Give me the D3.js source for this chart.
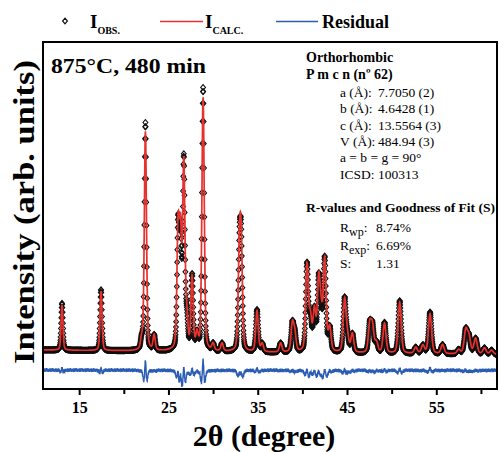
<!DOCTYPE html>
<html>
<head>
<meta charset="UTF-8">
<title>XRD Rietveld 875C 480 min</title>
<script src="https://d3js.org/d3.v7.min.js"></script>
<style>
  body { margin: 0; background: #ffffff; }
  svg { font-family: 'Liberation Serif', 'Times New Roman', serif; }
</style>
</head>
<body>
<svg id="chart" width="499" height="452"></svg>
<script>
// reflection positions (2theta) and heights
var peakPos  = [13.08, 17.45, 22.0, 22.42, 23.4, 26.08, 26.35, 26.72, 27.05, 27.65, 28.2, 28.88, 30.0, 31.0,
                32.95, 33.15, 34.92, 35.5, 37.57, 38.88, 39.15, 40.52, 40.9, 41.35, 41.83, 42.1, 42.5, 43.06,
                44.73, 45.05, 45.6, 47.55, 47.85, 48.3, 49.2, 50.9, 52.7, 53.5, 54.3, 55.7, 57.5, 58.3, 58.65,
                59.4, 60.4, 61.2];
var obsHeight  = [470, 610, 100, 2280, 150, 1200, 1080, 1880, 290, 740, 150, 2630, 70, 80,
                  920, 970, 420, 80, 90, 280, 175, 870, 310, 400, 690, 310, 920, 235,
                  535, 145, 185, 280, 260, 100, 305, 525, 60, 80, 415, 90, 40, 235, 165,
                  155, 60, 40];
var calcHeight = [450, 590, 100, 2190, 150, 1175, 1065, 1830, 290, 720, 150, 2530, 70, 80,
                  895, 955, 405, 80, 90, 272, 175, 855, 310, 392, 675, 310, 905, 235,
                  522, 145, 185, 272, 252, 100, 297, 512, 60, 80, 398, 90, 40, 227, 165,
                  155, 60, 40];
var background = [390, 345];          // at 11 and 62 degrees
var residualOffset = 190;
var residualJitter = [9, -13, 6, 17, -8, -20, 12, 3, -10, 16, -5, -18, 8, 13, -9, 5, -15, 10, 19, -6, -12, 2, 15, -16, 6, -3, 12, -19, 9, -7, 13, -2, -10];
var xTicks = [15, 25, 35, 45, 55];
var xMinor = [20, 30, 40, 50, 60];
var cellLines = [["a (\u00c5):", "7.7050 (2)"], ["b (\u00c5):", "4.6428 (1)"], ["c (\u00c5):", "13.5564 (3)"],
                 ["V (\u00c5):", "484.94 (3)"]];
var rValues = [["R", "wp", ":", "8.74%"], ["R", "exp", ":", "6.69%"], ["S:", "", "", "1.31"]];

var svg = d3.select("#chart");
var mLeft = 43, mRight = 497, mTop = 42, mBottom = 389;

var x = d3.scaleLinear().domain([10.95, 61.8]).range([mLeft, mRight]);
var y = d3.scaleLinear().domain([0, 3470]).range([mBottom, mTop]);
var bg = d3.scaleLinear().domain([11, 62]).range(background);

function profile(t, c, w) {
  var d = (t - c) / w;
  return 0.35 / (1 + 4 * d * d) + 0.65 * Math.exp(-2.7726 * d * d);
}
function peakWidth(c) { return 0.24 + 0.004 * (c - 11); }

var pts = d3.range(11, 62.001, 0.02).map(function(t, i) {
  var o = bg(t), c = bg(t);
  peakPos.forEach(function(p, k) {
    if (Math.abs(t - p) > 4) return;
    o += obsHeight[k] * profile(t, p, peakWidth(p) * 0.91);
    c += calcHeight[k] * profile(t, p, peakWidth(p));
  });
  return {t: t, obs: o, calc: c, res: residualOffset + (o - c) + residualJitter[i % residualJitter.length]};
});

svg.append("clipPath").attr("id", "plotclip")
  .append("rect").attr("x", mLeft).attr("y", mTop).attr("width", mRight - mLeft).attr("height", mBottom - mTop);

var plot = svg.append("g").attr("clip-path", "url(#plotclip)");

var diamond = "M0,-2.8L2.4,0L0,2.8L-2.4,0Z";
plot.selectAll(".obs").data(pts).enter().append("path")
  .attr("class", "obs")
  .attr("d", diamond)
  .attr("transform", function(d) { return "translate(" + x(d.t) + "," + y(d.obs) + ")"; })
  .attr("fill", "none").attr("stroke", "#111").attr("stroke-width", 1.1);

plot.append("path").datum(pts)
  .attr("fill", "none").attr("stroke", "#e8302c").attr("stroke-width", 1.7)
  .attr("d", d3.line().x(function(d) { return x(d.t); }).y(function(d) { return y(d.calc); }));

plot.append("path").datum(pts)
  .attr("fill", "none").attr("stroke", "#2a5cb4").attr("stroke-width", 1.4)
  .attr("d", d3.line().x(function(d) { return x(d.t); }).y(function(d) { return y(d.res); }));

// frame
svg.append("rect").attr("x", mLeft).attr("y", mTop).attr("width", mRight - mLeft).attr("height", mBottom - mTop)
  .attr("fill", "none").attr("stroke", "#000").attr("stroke-width", 2);

// x axis
var xAxis = svg.append("g").attr("transform", "translate(0," + mBottom + ")")
  .call(d3.axisBottom(x).tickValues(xTicks).tickSize(6).tickPadding(7).tickFormat(d3.format("d")));
xAxis.select(".domain").remove();
xAxis.selectAll("line").attr("stroke", "#000").attr("stroke-width", 2);
xAxis.selectAll("text").attr("font-family", "Liberation Serif").attr("font-weight", "bold").attr("font-size", 16).attr("fill", "#000");
svg.append("g").attr("transform", "translate(0," + mBottom + ")")
  .call(d3.axisBottom(x).tickValues(xMinor).tickSize(5).tickFormat(""))
  .call(function(g) { g.select(".domain").remove(); g.selectAll("line").attr("stroke", "#000").attr("stroke-width", 2); });

// axis titles
svg.append("text").attr("x", 264).attr("y", 446).attr("text-anchor", "middle")
  .attr("font-size", 30).attr("font-weight", "bold").text("2\u03b8 (degree)");
svg.append("text").attr("transform", "translate(34,212) rotate(-90)").attr("text-anchor", "middle")
  .attr("font-size", 30).attr("font-weight", "bold")
  .attr("textLength", 304).attr("lengthAdjust", "spacingAndGlyphs")
  .text("Intensity (arb. units)");

// condition label
svg.append("text").attr("x", 51).attr("y", 73).attr("font-size", 22).attr("font-weight", "bold")
  .attr("textLength", 155).attr("lengthAdjust", "spacingAndGlyphs")
  .text("875\u00b0C, 480 min");

// legend
var leg = svg.append("g").attr("font-weight", "bold");
leg.append("path").attr("d", diamond).attr("transform", "translate(65,21)")
  .attr("fill", "#fff").attr("stroke", "#111").attr("stroke-width", 1.2);
var t1 = leg.append("text").attr("x", 90).attr("y", 28).attr("font-size", 19);
t1.append("tspan").text("I");
t1.append("tspan").attr("font-size", 10).attr("dy", 6).text("OBS.");
leg.append("line").attr("x1", 160).attr("x2", 203).attr("y1", 21.5).attr("y2", 21.5)
  .attr("stroke", "#e8302c").attr("stroke-width", 1.6);
var t2 = leg.append("text").attr("x", 205).attr("y", 28).attr("font-size", 19);
t2.append("tspan").text("I");
t2.append("tspan").attr("font-size", 10).attr("dy", 6).text("CALC.");
leg.append("line").attr("x1", 276).attr("x2", 318).attr("y1", 21.5).attr("y2", 21.5)
  .attr("stroke", "#2a5cb4").attr("stroke-width", 1.6);
leg.append("text").attr("x", 322).attr("y", 28).attr("font-size", 18).text("Residual");

// structure info
var info = svg.append("g").attr("font-size", 13.5);
info.append("text").attr("x", 306).attr("y", 62).attr("font-weight", "bold").attr("font-size", 14).text("Orthorhombic");
info.append("text").attr("x", 306).attr("y", 79).attr("font-weight", "bold").attr("font-size", 14).text("P m c n (n\u00ba 62)");
cellLines.forEach(function(l, i) {
  info.append("text").attr("x", 340).attr("y", 97 + i * 16.3).text(l[0]);
  info.append("text").attr("x", 378).attr("y", 97 + i * 16.3).text(l[1]);
});
info.append("text").attr("x", 340).attr("y", 162).text("a = b = g = 90\u00b0");
info.append("text").attr("x", 340).attr("y", 178.5).text("ICSD: 100313");
info.append("text").attr("x", 306).attr("y", 212).attr("font-weight", "bold").attr("font-size", 13.5)
  .attr("textLength", 189).attr("lengthAdjust", "spacingAndGlyphs")
  .text("R-values and Goodness of Fit (S)");
rValues.forEach(function(r, i) {
  var yy = 232 + i * 18;
  var tt = info.append("text").attr("x", 340).attr("y", yy);
  tt.append("tspan").text(r[0]);
  if (r[1]) {
    tt.append("tspan").attr("font-size", 12).attr("dy", 4).text(r[1]);
    tt.append("tspan").attr("dy", -4).text(r[2]);
  }
  info.append("text").attr("x", 376).attr("y", yy).text(r[3]);
});
</script>
</body>
</html>
